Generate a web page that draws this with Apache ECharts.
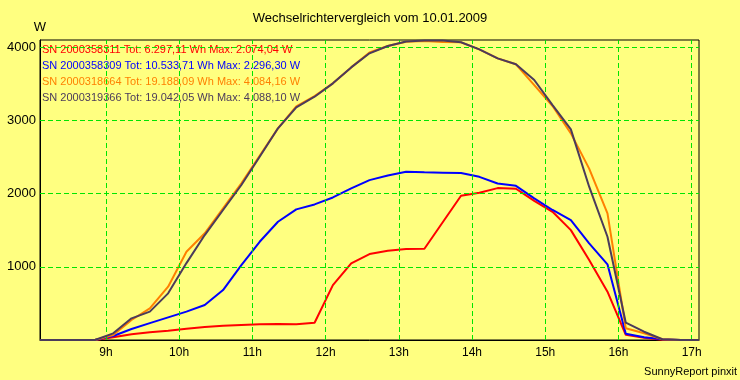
<!DOCTYPE html>
<html><head><meta charset="utf-8">
<script src="https://cdn.jsdelivr.net/npm/echarts@6/dist/echarts.min.js"></script>
<style>html,body{margin:0;padding:0;background:#ffff80;}#c{width:740px;height:380px;}</style>
</head><body><div id="c"></div>
<script>
var times = ["8:06","8:21","8:36","8:51","9:06","9:21","9:36","9:51","10:06","10:21","10:36","10:51","11:06","11:21","11:36","11:51","12:06","12:21","12:36","12:51","13:06","13:21","13:36","13:51","14:06","14:21","14:36","14:51","15:06","15:21","15:36","15:51","16:06","16:21","16:36","16:51","17:06"];
var seriesNames = [
  "SN 2000358311 Tot: 6.297,11 Wh Max: 2.074,04 W",
  "SN 2000358309 Tot: 10.533,71 Wh Max: 2.296,30 W",
  "SN 2000318664 Tot: 19.188,09 Wh Max: 4.084,16 W",
  "SN 2000319366 Tot: 19.042,05 Wh Max: 4.088,10 W"
];
var red    = [0,0,0,0,37,78,105,127,154,177,195,205,214,218,215,236,750,1046,1173,1218,1241,1246,1607,1969,2010,2074,2065,1900,1750,1500,1091,659,70,31,5,0,0];
var blue   = [0,0,0,0,55,150,230,309,387,477,682,1023,1341,1614,1783,1851,1946,2069,2183,2247,2296,2290,2285,2280,2228,2137,2105,1933,1775,1638,1320,1033,85,37,10,0,0];
var orange = [0,0,0,0,68,273,432,728,1205,1457,1798,2139,2515,2890,3190,3330,3504,3722,3925,4014,4073,4084,4070,4064,3968,3845,3764,3481,3195,2821,2340,1730,160,91,10,0,0];
var dark   = [0,0,0,0,91,296,387,637,1050,1433,1775,2116,2502,2890,3176,3322,3504,3722,3914,4014,4075,4088,4088,4066,3968,3845,3764,3550,3208,2876,2093,1410,236,113,10,0,0];
var hourTicks = [9,10,11,12,13,14,15,16,17];
var yTicks = [1000,2000,3000,4000];
var colors = ["#ff0000","#0000ff","#ff8000","#4b3b5b"];

function toHours(t){var p=t.split(":");return +p[0] + (+p[1])/60;}
var xs = times.map(toHours);
function pairs(arr){return arr.map(function(v,i){return [xs[i], v];});}
var allData = [red, blue, orange, dark];

var gridLine = {color:"#00e600", type:[5,3], width:1};
var markData = hourTicks.map(function(h){return {xAxis:h};}).concat(yTicks.map(function(v){return {yAxis:v};}));

var series = [{
  type:"line", data:[[xs[0],0]], symbol:"none", lineStyle:{opacity:0}, silent:true, z:1,
  markLine:{silent:true, symbol:"none", label:{show:false}, lineStyle:gridLine, data:markData, animation:false}
}];
allData.forEach(function(d,i){
  series.push({name:seriesNames[i], type:"line", data:pairs(d), symbol:"none", z:2+i,
    lineStyle:{color:colors[i], width:2}, itemStyle:{color:colors[i]}});
});

var chart = echarts.init(document.getElementById("c"));
chart.setOption({
  backgroundColor:"#ffff80",
  animation:false,
  textStyle:{fontFamily:"Liberation Sans"},
  title:[
    {text:"Wechselrichtervergleich vom 10.01.2009", left:"center", top:12, padding:0,
     textStyle:{fontSize:13, fontWeight:"normal", color:"#000", fontFamily:"Liberation Sans"}},
    {text:"SunnyReport pinxit", right:3, bottom:3, padding:0,
     textStyle:{fontSize:11, fontWeight:"normal", color:"#000", fontFamily:"Liberation Sans"}}
  ],
  legend:{
    orient:"vertical", left:37, top:43, itemWidth:0, itemHeight:14, itemGap:2, padding:0,
    selectedMode:false,
    data:seriesNames.map(function(n,i){return {name:n, icon:"none", textStyle:{color:colors[i]}};}),
    textStyle:{fontSize:11, fontFamily:"Liberation Sans", lineHeight:14}
  },
  grid:{left:40, right:41, top:40, bottom:40, show:true, borderColor:"#000", borderWidth:1, backgroundColor:"transparent"},
  xAxis:{type:"value", min:8.1, max:17.1,
    axisLine:{lineStyle:{color:"#000"}}, axisTick:{show:false},
    splitLine:{show:false},
    axisLabel:{customValues:hourTicks, formatter:function(v){return v+"h";}, color:"#000", fontSize:12, margin:7, fontFamily:"Liberation Sans"}
  },
  yAxis:{type:"value", min:0, max:4096, name:"W", nameLocation:"end", nameGap:6,
    nameTextStyle:{color:"#000", fontSize:13, fontFamily:"Liberation Sans", align:"center"},
    axisLine:{show:true, lineStyle:{color:"#000"}}, axisTick:{show:false},
    splitLine:{show:false},
    axisLabel:{customValues:yTicks, formatter:function(v){return String(v);}, color:"#000", fontSize:13, margin:4, fontFamily:"Liberation Sans"}
  },
  series:series
});
</script></body></html>
